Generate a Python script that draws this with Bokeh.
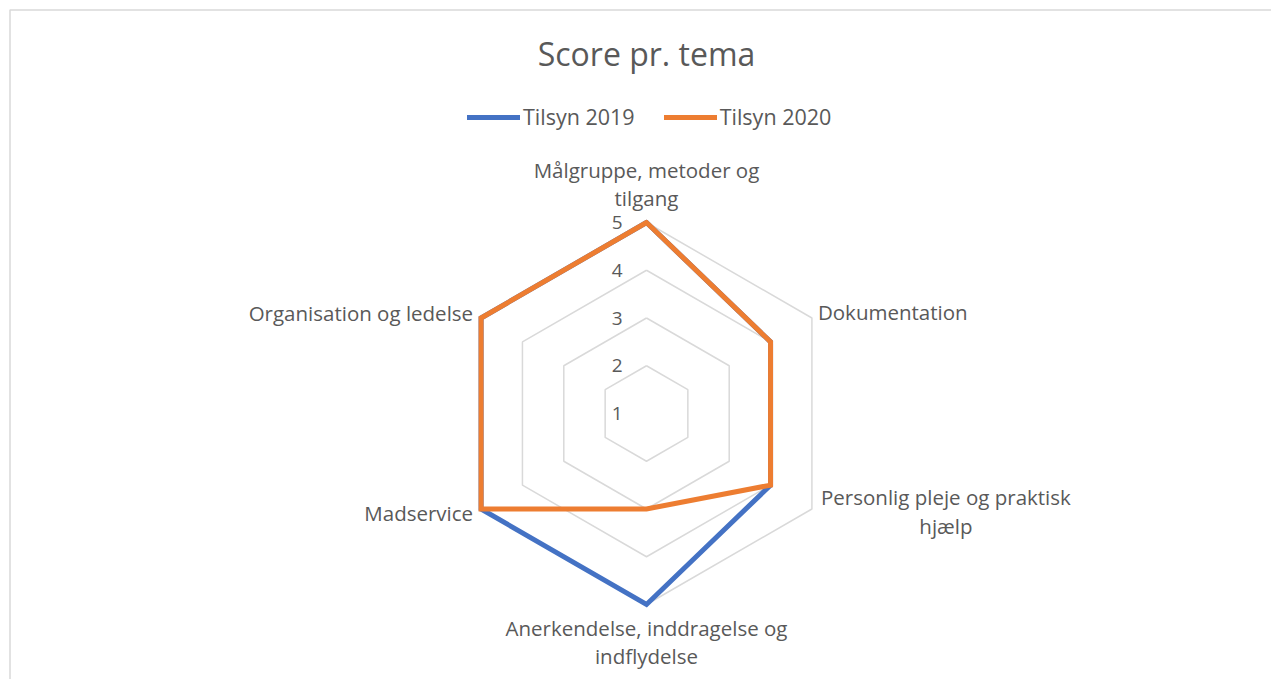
import numpy as np
from bokeh.plotting import figure
from bokeh.models import Range1d, Legend, LegendItem
from bokeh.core.properties import value
from bokeh.embed import file_html
from bokeh.resources import INLINE

categories = [
    "Målgruppe, metoder og\ntilgang",
    "Dokumentation",
    "Personlig pleje og praktisk\nhjælp",
    "Anerkendelse, inddragelse og\nindflydelse",
    "Madservice",
    "Organisation og ledelse",
]
series_names = ["Tilsyn 2019", "Tilsyn 2020"]
tilsyn_2019 = [5, 4, 4, 5, 5, 5]
tilsyn_2020 = [5, 4, 4, 3, 5, 5]
tick_labels = ["1", "2", "3", "4", "5"]
tick_values = [1, 2, 3, 4, 5]

W, H = 1271, 679
CX, CY = 646, 413          # centre in screen px
S = 47.75                  # px per unit
VMIN = 1
FONT = "Open Sans"
GREY = "#595959"

p = figure(width=W, height=H, output_backend="svg", toolbar_location=None,
           x_range=Range1d(-CX / S, (W - CX) / S),
           y_range=Range1d(-(H - CY) / S, CY / S),
           min_border=0, outline_line_color=None)
p.axis.visible = False
p.grid.visible = False
p.background_fill_color = "white"
p.border_fill_color = "white"

n = len(categories)
ang = np.arange(n) * 2 * np.pi / n


def px(dx, dy):
    return dx / S, -dy / S


# chart border
bl, bt = px(9.5 - CX, 9.5 - CY)
br, bb = px(W + 5 - CX, H + 5 - CY)
p.quad(left=bl, right=br, top=bt, bottom=bb, fill_color=None,
       line_color="#d9d9d9", line_width=1.5)

# grid hexagons
for v in tick_values[1:]:
    r = v - VMIN
    xs = list(r * np.sin(ang)) + [0]
    ys = list(r * np.cos(ang)) + [r]
    p.line(xs, ys, line_color="#d9d9d9", line_width=1.5)

# series
colors = ["#4472C4", "#ED7D31"]
renderers = []
for vals, c in zip([tilsyn_2019, tilsyn_2020], colors):
    r = np.array(vals, dtype=float) - VMIN
    xs = list(r * np.sin(ang)) + [r[0] * np.sin(ang[0])]
    ys = list(r * np.cos(ang)) + [r[0] * np.cos(ang[0])]
    rr = p.line(xs, ys, line_color=c, line_width=5, line_join="miter",
                line_cap="round")
    renderers.append(rr)

# tick labels
tx = [-24 / S] * len(tick_values)
ty = [v - VMIN for v in tick_values]
p.text(tx, ty, text=tick_labels, text_font=value(FONT), text_font_size="19px",
       text_color=GREY, text_align="right", text_baseline="middle")

# category labels: offsets (px) of first line centre from axis end
offs = [(0, -53, "center"), (6, -6, "left"), (134, -12, "center"),
        (0, 23, "center"), (-8, 4, "right"), (-8, -5, "right")]
R = tick_values[-1] - VMIN
LS = 28.5
for i, (lab, (ox, oy, al)) in enumerate(zip(categories, offs)):
    lines = lab.split("\n")
    x0 = R * np.sin(ang[i]) + ox / S
    y0 = R * np.cos(ang[i]) - oy / S
    for j, ln in enumerate(lines):
        p.text([x0], [y0 - j * LS / S], text=[ln], text_font=value(FONT),
               text_font_size="20.5px", text_color=GREY, text_align=al,
               text_baseline="middle")

# title
p.text([px(0, 53 - CY)[0]], [px(0, 53 - CY)[1]], text=["Score pr. tema"],
       text_font=value(FONT), text_font_size="32px", text_color=GREY,
       text_align="center", text_baseline="middle")

legend = Legend(items=[LegendItem(label=s, renderers=[r]) for s, r in zip(series_names, renderers)],
                orientation="horizontal", location=(467, 548),
                glyph_width=53, glyph_height=20, label_height=20,
                label_standoff=3, spacing=29, padding=0, margin=0,
                border_line_color=None, background_fill_alpha=0,
                label_text_font=FONT, label_text_font_size="21.5px",
                label_text_color=GREY)
p.add_layout(legend, "center")

open("out.html", "w").write(file_html(p, INLINE))
